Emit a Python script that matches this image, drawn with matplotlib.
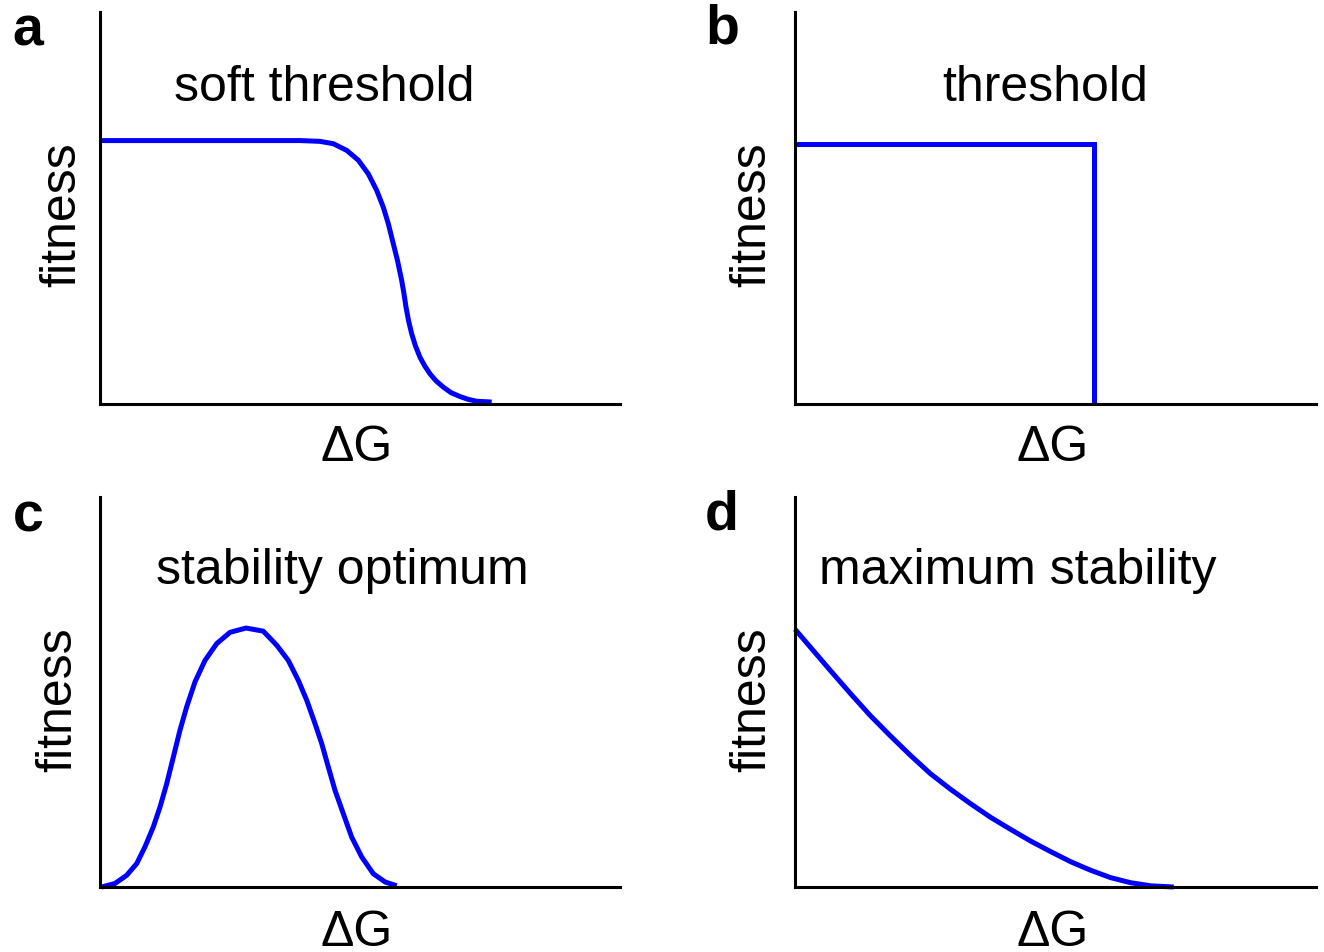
import matplotlib
matplotlib.use('Agg')
import matplotlib.pyplot as plt

plt.rcParams['font.family'] = ['Liberation Sans', 'DejaVu Sans']

W, H = 1324, 952

# soft threshold (x = dG in arbitrary units, y = fitness)
soft_x = [0.000, 3.846, 4.231, 4.487, 4.744, 4.967, 5.160, 5.321, 5.448, 5.544, 5.640, 5.721, 5.802,
          5.846, 5.885, 5.933, 5.994, 6.067, 6.154, 6.250, 6.346, 6.462, 6.602, 6.750, 6.923, 7.077,
          7.244, 7.533]
soft_y = [0.672, 0.672, 0.670, 0.664, 0.647, 0.622, 0.587, 0.545, 0.502, 0.460, 0.409, 0.366, 0.315,
          0.281, 0.247, 0.213, 0.179, 0.148, 0.119, 0.096, 0.077, 0.059, 0.043, 0.029, 0.019, 0.012,
          0.007, 0.005]

# hard threshold
thr_x = [0.0, 5.74, 5.74]
thr_y = [0.664, 0.664, 0.0]

# stability optimum
opt_x = [0.033, 0.288, 0.513, 0.706, 0.865, 1.025, 1.154, 1.283, 1.410, 1.538, 1.667, 1.827, 2.019,
         2.244, 2.500, 2.808, 3.140, 3.398, 3.621, 3.813, 3.975, 4.135, 4.263, 4.390, 4.519, 4.679,
         4.840, 5.033, 5.256, 5.481, 5.706]
opt_y = [0.000, 0.009, 0.030, 0.060, 0.103, 0.154, 0.205, 0.265, 0.333, 0.402, 0.462, 0.526, 0.581,
         0.624, 0.653, 0.664, 0.656, 0.620, 0.581, 0.530, 0.479, 0.419, 0.368, 0.308, 0.248, 0.188,
         0.128, 0.077, 0.034, 0.013, 0.003]

# maximum stability
max_x = [0.000, 0.288, 0.673, 1.058, 1.442, 1.827, 2.212, 2.596, 2.981, 3.365, 3.750, 4.135, 4.519,
         4.904, 5.288, 5.673, 6.058, 6.442, 6.827, 7.269]
max_y = [0.661, 0.616, 0.556, 0.497, 0.440, 0.388, 0.338, 0.291, 0.251, 0.214, 0.179, 0.148, 0.118,
         0.091, 0.065, 0.043, 0.024, 0.011, 0.003, 0.000]

panels = [
    ('a', 'soft threshold', soft_x, soft_y),
    ('b', 'threshold', thr_x, thr_y),
    ('c', 'stability optimum', opt_x, opt_y),
    ('d', 'maximum stability', max_x, max_y),
]

# axes boxes in pixels: left, top, right, bottom
boxes = [(100, 12, 620, 404), (795, 12, 1316, 404),
         (100, 497, 620, 887), (795, 497, 1316, 887)]
title_pos = [(324, 88), (1045, 88), (342, 571), (1018, 571)]
letter_pos = [(28, 32), (722, 30), (28, 517), (722, 515)]
ylab_pos = [(62, 215), (752, 215), (58, 700), (752, 700)]
xlab_pos = [(357, 448), (1053, 448), (357, 933), (1053, 933)]


def fx(x):
    return x / W


def fy(y):
    return 1 - y / H


fig = plt.figure(figsize=(W / 100, H / 100), dpi=100)

for i, (letter, title, xs, ys) in enumerate(panels):
    l, t, r, b = boxes[i]
    ax = fig.add_axes([fx(l), fy(b), (r - l) / W, (b - t) / H])
    join = 'miter' if letter == 'b' else 'round'
    ax.plot(xs, ys, color='#0000ff', lw=3.6, solid_capstyle='butt', solid_joinstyle=join, clip_on=False)
    ax.set_xlim(0, 10)
    ax.set_ylim(0, 1)
    ax.spines['top'].set_visible(False)
    ax.spines['right'].set_visible(False)
    ax.spines['left'].set_linewidth(2.2)
    ax.spines['bottom'].set_linewidth(2.2)
    ax.set_xticks([])
    ax.set_yticks([])

    fig.text(fx(title_pos[i][0]), fy(title_pos[i][1]), title, fontsize=36, ha='center', va='center')
    fig.text(fx(letter_pos[i][0]), fy(letter_pos[i][1]), letter, fontsize=40, fontweight='bold', ha='center', va='center')
    fig.text(fx(ylab_pos[i][0]), fy(ylab_pos[i][1]), 'fitness', fontsize=36, rotation=90, ha='center', va='center')
    fig.text(fx(xlab_pos[i][0]), fy(xlab_pos[i][1]), '\u0394G', fontsize=36, ha='center', va='center')

fig.savefig('out.png', dpi=100)
